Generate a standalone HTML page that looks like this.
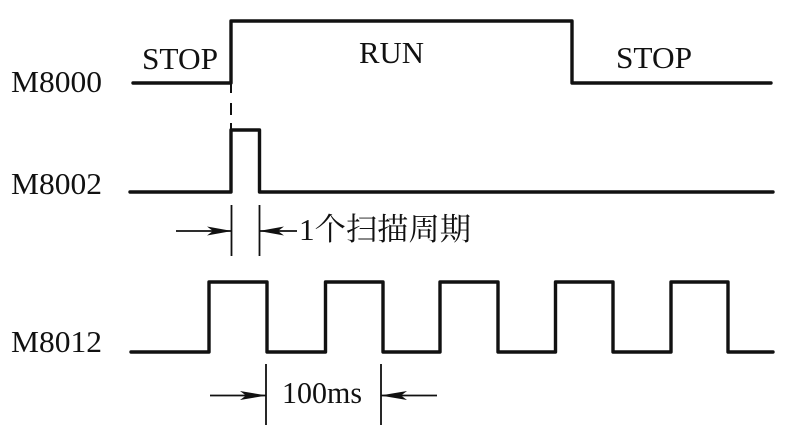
<!DOCTYPE html>
<html><head><meta charset="utf-8"><style>html,body{margin:0;padding:0;background:#fff}svg{display:block}text{font-family:"Liberation Serif","Noto Serif CJK SC",serif;fill:#111;font-size:31px}</style></head>
<body>
<svg width="786" height="434" viewBox="0 0 786 434" xmlns="http://www.w3.org/2000/svg">
<g fill="none" stroke="#111" stroke-width="3.4" stroke-linejoin="round" stroke-linecap="round">
<path d="M133 83H231V21H572V83H771"/>
<path d="M130 192H231V130H259.5V192H773"/>
<path d="M131 352H209V282H267V352H325.5V282H383V352H440V282H498V352H555.5V282H613V352H671V282H728V352H773"/>
</g>
<g fill="none" stroke="#111" stroke-width="1.8">
<path d="M231 84V93M231 103V115M231 123V130" stroke-width="2"/>
<path d="M231.5 205V256M259.5 205V256M176 231H231M260 231H297"/>
<path d="M266 364V425M381 364V425M210 395.5H266M381 395.5H437"/>
</g>
<g fill="#111">
<path d="M232 231L207 226.500L213 231L207 235.500Z"/>
<path d="M259 231L284 226.500L278 231L284 235.500Z"/>
<path d="M267 395.500L240 391L246 395.500L240 400Z"/>
<path d="M380 395.500L407 391L401 395.500L407 400Z"/>
</g>
<text x="142" y="69" textLength="76" lengthAdjust="spacingAndGlyphs">STOP</text>
<text x="359" y="63" textLength="65" lengthAdjust="spacingAndGlyphs">RUN</text>
<text x="616" y="68" textLength="76" lengthAdjust="spacingAndGlyphs">STOP</text>
<text x="11" y="92" textLength="91" lengthAdjust="spacingAndGlyphs">M8000</text>
<text x="11" y="194" textLength="91" lengthAdjust="spacingAndGlyphs">M8002</text>
<text x="11" y="352" textLength="91" lengthAdjust="spacingAndGlyphs">M8012</text>
<text x="299" y="240" textLength="172" lengthAdjust="spacingAndGlyphs">1个扫描周期</text>
<text x="282" y="403" textLength="80" lengthAdjust="spacingAndGlyphs">100ms</text>
</svg>
</body></html>
